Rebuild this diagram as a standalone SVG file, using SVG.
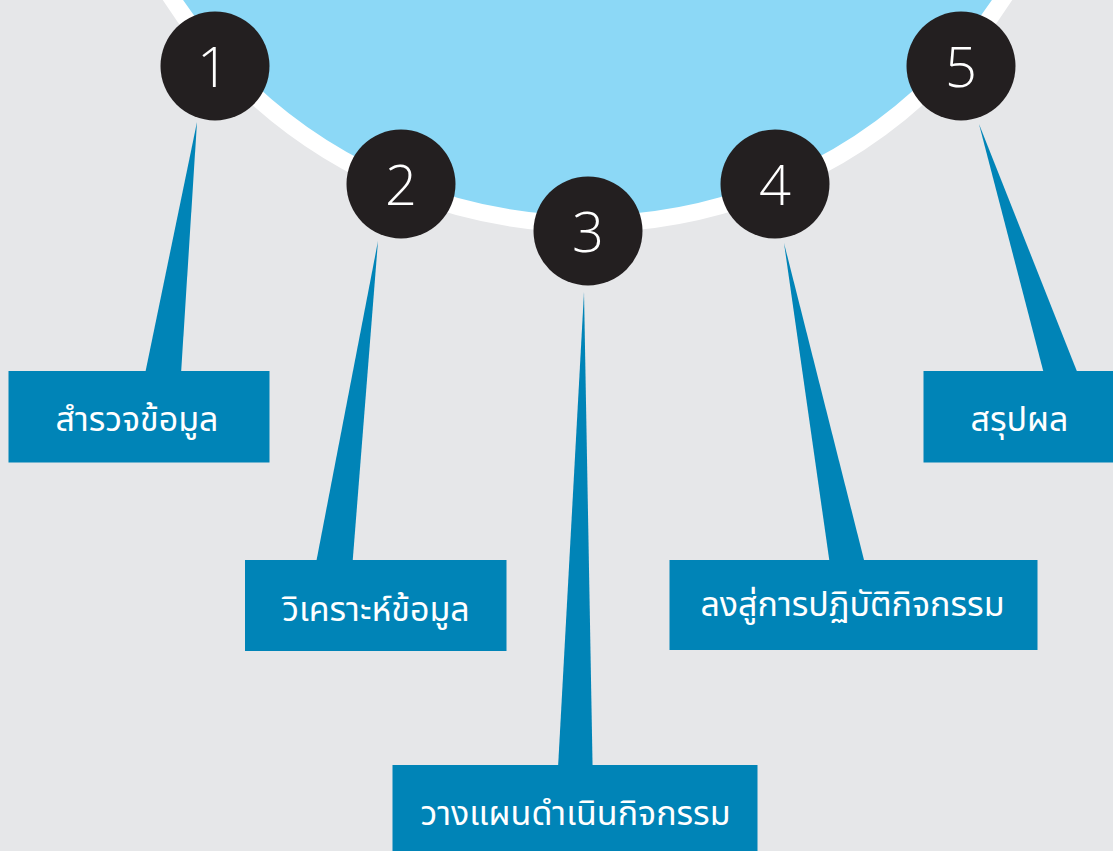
<svg xmlns="http://www.w3.org/2000/svg" width="1113" height="851" viewBox="0 0 1113 851">
<style>
.bg{fill:#e6e7e9}
.hub{fill:#8cd8f6;stroke:#ffffff;stroke-width:17}
.num{fill:#231f20}
.numt{fill:#ffffff;font-family:"Open Sans","DejaVu Sans",sans-serif;font-weight:300;font-size:56px;text-anchor:middle}
.wedge{fill:#0084b7}
.box{fill:#0084b7}
.lbl{fill:#ffffff;font-family:"Noto Sans Thai","Noto Sans","DejaVu Sans",sans-serif;font-size:34px;text-anchor:middle}
</style>
<rect class="bg" x="0" y="0" width="1113" height="851"/>
<circle class="hub" cx="587.5" cy="-271.5" r="495.5"/>
<g id="connectors">
<polygon class="wedge" points="197,122 145,374 181,374"/>
<polygon class="wedge" points="378,241 316,563 352.5,563"/>
<polygon class="wedge" points="584,292 558,768 592.6,768"/>
<polygon class="wedge" points="784,243 829.7,563 864.8,563"/>
<polygon class="wedge" points="979,124 1044,374 1078,374"/>
</g>
<g id="n1"><circle class="num" cx="215" cy="66" r="54.5"/><text class="numt" x="213" y="87">1</text></g>
<g id="n2"><circle class="num" cx="401" cy="184" r="54.5"/><text class="numt" x="401" y="205">2</text></g>
<g id="n3"><circle class="num" cx="588" cy="231" r="54.5"/><text class="numt" x="588" y="252">3</text></g>
<g id="n4"><circle class="num" cx="775" cy="184" r="54.5"/><text class="numt" x="775" y="205">4</text></g>
<g id="n5"><circle class="num" cx="961" cy="66" r="54.5"/><text class="numt" x="961" y="87">5</text></g>
<g id="b1"><rect class="box" x="8.5" y="371" width="261" height="91.5"/><text class="lbl" x="137" y="431">สำรวจข้อมูล</text></g>
<g id="b2"><rect class="box" x="245" y="560" width="261.5" height="91"/><text class="lbl" x="376" y="621">วิเคราะห์ข้อมูล</text></g>
<g id="b3"><rect class="box" x="392.5" y="765" width="365" height="86"/><text class="lbl" x="575.5" y="825">วางแผนดำเนินกิจกรรม</text></g>
<g id="b4"><rect class="box" x="669.5" y="560" width="368" height="90"/><text class="lbl" x="852.5" y="616">ลงสู่การปฏิบัติกิจกรรม</text></g>
<g id="b5"><rect class="box" x="923.5" y="371" width="189.5" height="91.5"/><text class="lbl" x="1019.5" y="431">สรุปผล</text></g>
</svg>
